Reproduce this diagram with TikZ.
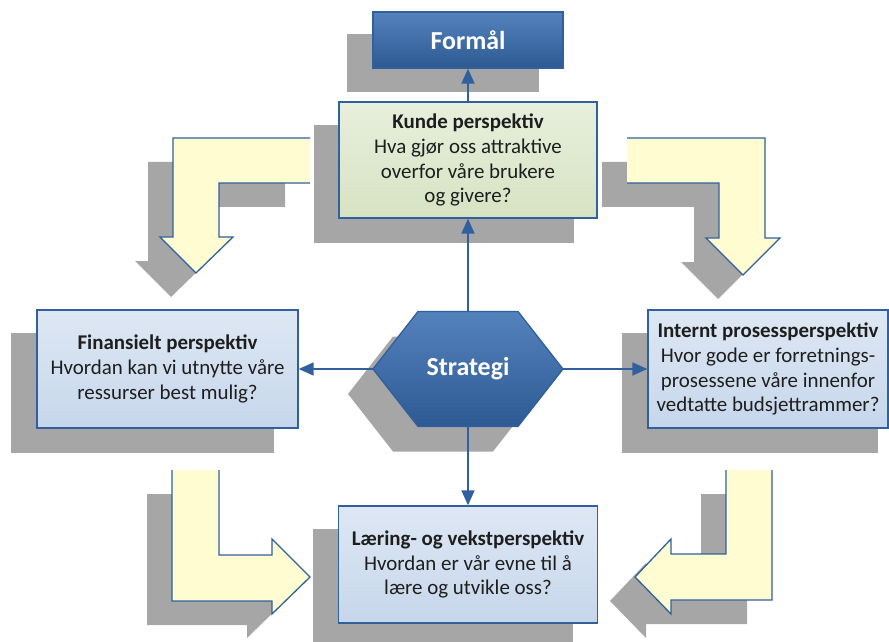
\documentclass[tikz,border=0pt]{standalone}
\usepackage{fontspec}
\setmainfont{Carlito}
\usetikzlibrary{arrows.meta}

\definecolor{edgeblue}{HTML}{30609E}
\definecolor{shadowgray}{HTML}{A6A6A6}
\definecolor{arrowfill}{HTML}{FFFCD2}
\definecolor{kundetop}{HTML}{E8EFDD}
\definecolor{kundebot}{HTML}{D6E3C2}
\definecolor{boxtop}{HTML}{DEE8F4}
\definecolor{boxbot}{HTML}{C6D6EB}
\definecolor{darktop}{HTML}{5482BC}
\definecolor{darkbot}{HTML}{2E5A93}
\definecolor{bodytext}{HTML}{1E1E1E}

\pgfdeclarelayer{shadowlayer}
\pgfdeclarelayer{hexlayer}
\pgfsetlayers{shadowlayer,hexlayer,main}

\begin{document}
\begin{tikzpicture}[x=1bp, y=-1bp,
  perspective/.style={draw=edgeblue, line width=1.3bp, top color=boxtop, bottom color=boxbot,
    align=center, text=bodytext, inner sep=0pt, font=\fontsize{21}{25}\selectfont},
  kundebox/.style={perspective, top color=kundetop, bottom color=kundebot},
  titlebox/.style={draw=edgeblue, line width=1.3bp, top color=darktop, bottom color=darkbot,
    text=white, font=\bfseries\fontsize{26}{30}\selectfont},
  hexbody/.style={draw=edgeblue, line width=1.3bp, top color=darktop, bottom color=darkbot},
  boxshadow/.style={fill=shadowgray},
  connector/.style={draw=edgeblue, line width=1.6bp, -{Triangle[length=15bp,width=13bp]}},
  bentfill/.style={fill=arrowfill},
  bentedge/.style={draw=edgeblue, line width=1.3bp, line join=miter},
]
\useasboundingbox (0,0) rectangle (889,642);

% boxes
\node[titlebox, minimum width=190bp, minimum height=56bp] (formal) at (468,40) {Formål};
\node[kundebox, minimum width=258bp, minimum height=116bp] (kunde) at (468,160)
  {{\bfseries Kunde perspektiv}\\Hva gjør oss attraktive\\overfor våre brukere\\og givere?};
\node[perspective, minimum width=261bp, minimum height=118bp] (finans) at (167.5,369)
  {{\bfseries Finansielt perspektiv}\\Hvordan kan vi utnytte våre\\ressurser best mulig?};
\node[perspective, minimum width=240bp, minimum height=118bp] (internt) at (768,369)
  {{\bfseries Internt prosessperspektiv}\\Hvor gode er forretnings-\\prosessene våre innenfor\\vedtatte budsjettrammer?};
\node[perspective, minimum width=259bp, minimum height=117bp] (laering) at (468,564.5)
  {{\bfseries Læring- og vekstperspektiv}\\Hvordan er vår evne til å\\lære og utvikle oss?};
\node[text=white, font=\bfseries\fontsize{26}{30}\selectfont, inner sep=0pt, outer sep=0pt,
  minimum width=190bp, minimum height=115bp] (strategi) at (468,369) {Strategi};

% hexagon body behind its label
\begin{pgfonlayer}{hexlayer}
\path[hexbody] (strategi.west) -- ([xshift=45bp]strategi.north west) -- ([xshift=-45bp]strategi.north east)
  -- (strategi.east) -- ([xshift=-45bp]strategi.south east) -- ([xshift=45bp]strategi.south west) -- cycle;
\end{pgfonlayer}

% drop shadows
\begin{pgfonlayer}{shadowlayer}
\fill[boxshadow] ([shift={(-25,23)}]formal.north west) rectangle ([shift={(-25,23)}]formal.south east);
\fill[boxshadow] ([shift={(-24,24)}]kunde.north west) rectangle ([shift={(-24,24)}]kunde.south east);
\fill[boxshadow] ([shift={(-25,24)}]finans.north west) rectangle ([shift={(-25,24)}]finans.south east);
\fill[boxshadow] ([shift={(-25,24)}]internt.north west) rectangle ([shift={(-11,24)}]internt.south east);
\fill[boxshadow] ([shift={(-25,24)}]laering.north west) rectangle ([shift={(-25,24)}]laering.south east);
\fill[boxshadow] ([shift={(-25,25)}]strategi.west) -- ([shift={(20,25)}]strategi.north west)
  -- ([shift={(-70,25)}]strategi.north east) -- ([shift={(-25,25)}]strategi.east)
  -- ([shift={(-70,25)}]strategi.south east) -- ([shift={(20,25)}]strategi.south west) -- cycle;
\begin{scope}[shift={(-25,24)}]
  \fill[boxshadow] (310,138) -- (173,138) -- (173,237) -- (160,237) -- (196,273) -- (233,237) -- (219,237) -- (219,183) -- (310,183) -- cycle;
  \fill[boxshadow] (627,138) -- (765,138) -- (765,238) -- (780,238) -- (743,275) -- (706,238) -- (719,238) -- (719,183) -- (627,183) -- cycle;
  \fill[boxshadow] (172,470) -- (172,601) -- (272,601) -- (272,614) -- (310,577) -- (272,539) -- (272,555) -- (219,555) -- (219,470) -- cycle;
  \fill[boxshadow] (772,470) -- (772,600) -- (671,600) -- (671,614) -- (635,577) -- (671,539) -- (671,554) -- (726,554) -- (726,470) -- cycle;
\end{scope}
\end{pgfonlayer}

% bent cycle arrows
\fill[bentfill] (310,138) -- (173,138) -- (173,237) -- (160,237) -- (196,273) -- (233,237) -- (219,237) -- (219,183) -- (310,183) -- cycle;
\draw[bentedge] (310,138) -- (173,138) -- (173,237) -- (160,237) -- (196,273) -- (233,237) -- (219,237) -- (219,183) -- (310,183);
\fill[bentfill] (627,138) -- (765,138) -- (765,238) -- (780,238) -- (743,275) -- (706,238) -- (719,238) -- (719,183) -- (627,183) -- cycle;
\draw[bentedge] (627,138) -- (765,138) -- (765,238) -- (780,238) -- (743,275) -- (706,238) -- (719,238) -- (719,183) -- (627,183);
\fill[bentfill] (172,470) -- (172,601) -- (272,601) -- (272,614) -- (310,577) -- (272,539) -- (272,555) -- (219,555) -- (219,470) -- cycle;
\draw[bentedge] (172,470) -- (172,601) -- (272,601) -- (272,614) -- (310,577) -- (272,539) -- (272,555) -- (219,555) -- (219,470);
\fill[bentfill] (772,470) -- (772,600) -- (671,600) -- (671,614) -- (635,577) -- (671,539) -- (671,554) -- (726,554) -- (726,470) -- cycle;
\draw[bentedge] (772,470) -- (772,600) -- (671,600) -- (671,614) -- (635,577) -- (671,539) -- (671,554) -- (726,554) -- (726,470);

% connectors
\draw[connector] (kunde.north) -- (formal.south);
\draw[connector] (strategi.north) -- (kunde.south);
\draw[connector] (strategi.west) -- (finans.east);
\draw[connector] (strategi.east) -- (internt.west);
\draw[connector] (strategi.south) -- (laering.north);
\end{tikzpicture}
\end{document}
